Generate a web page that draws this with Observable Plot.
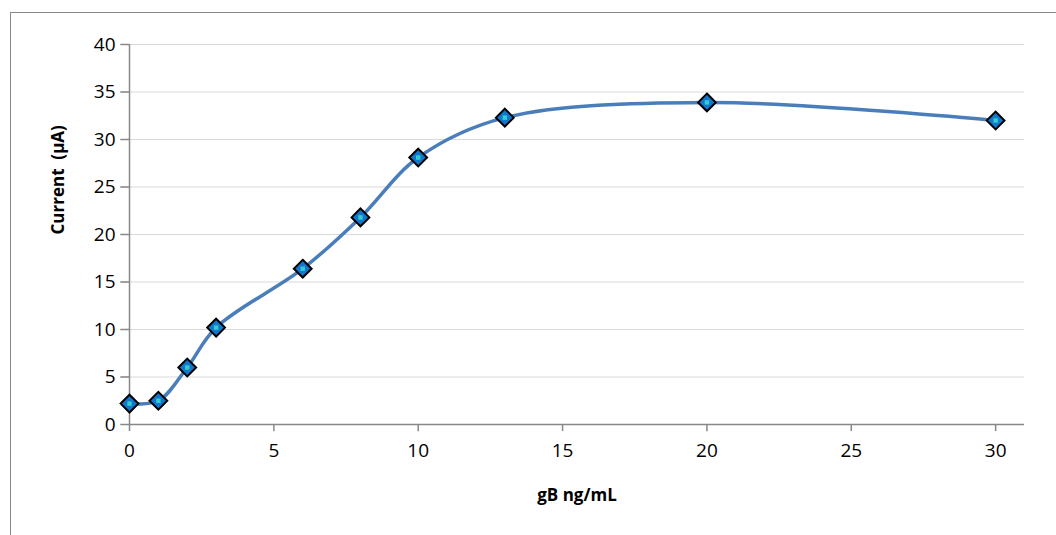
<!DOCTYPE html>
<html><head><meta charset="utf-8">
<script src="https://cdn.jsdelivr.net/npm/d3@7"></script>
<script src="https://cdn.jsdelivr.net/npm/@observablehq/plot@0.6"></script>
<style>
body{margin:0;background:#fff;font-family:"Open Sans",sans-serif;}
#frame{position:absolute;left:10px;top:12px;width:1060px;height:540px;border:1px solid #888;}
#chart{position:absolute;left:0;top:0;}
#chart svg text{font-size:19px !important;}
#chart svg g[font-weight="bold"] text{font-size:17px !important;}
</style></head><body>
<div id="frame"></div>
<div id="chart"></div>
<script>
// values
const concentration = [0, 1, 2, 3, 6, 8, 10, 13, 20, 30];
const current = [2.2, 2.5, 6.0, 10.2, 16.4, 21.8, 28.1, 32.3, 33.9, 32.0];
const xTicks = [0, 5, 10, 15, 20, 25, 30];
const yTicks = [0, 5, 10, 15, 20, 25, 30, 35, 40];

const points = concentration.map((x, i) => ({x, y: current[i]}));

const plot = Plot.plot({
  width: 1056,
  height: 535,
  marginLeft: 129,
  marginRight: 32,
  marginTop: 44,
  marginBottom: 111,
  style: {fontFamily: "Open Sans, sans-serif", color: "#000", background: "transparent", overflow: "visible"},
  x: {domain: [0, 31], axis: null},
  y: {domain: [0, 40], axis: null},
  marks: [
    Plot.ruleY(yTicks, {y: d => d, x1: -0.3, x2: 31, stroke: "#d9d9d9", strokeWidth: 1}),
    Plot.ruleX(xTicks, {x: d => d, y1: 0, y2: -0.75, stroke: "#888", strokeWidth: 1.5}),
    Plot.ruleY(yTicks, {y: d => d, x1: 0, x2: -0.3, stroke: "#888", strokeWidth: 1.5}),
    Plot.ruleY([0], {x1: 0, x2: 31, stroke: "#888", strokeWidth: 1.5}),
    Plot.ruleX([0], {y1: 0, y2: 40, stroke: "#888", strokeWidth: 1.5}),
    Plot.text(xTicks, {x: d => d, frameAnchor: "bottom", dy: 32, fontSize: 19, fill: "#000"}),
    Plot.text(yTicks, {y: d => d, frameAnchor: "left", dx: -14, textAnchor: "end", fontSize: 19, fill: "#000"}),
    Plot.line(points, {x: "x", y: "y", curve: "catmull-rom", stroke: "#4a7ebb", strokeWidth: 3.5}),
    Plot.dot(points, {x: "x", y: "y", symbol: "diamond2", r: 8, fill: "#1177cc", stroke: "#000", strokeWidth: 2}),
    Plot.dot(points, {x: "x", y: "y", symbol: "square", r: 2.5, fill: "#33cccc"}),
    Plot.text(["gB ng/mL"], {frameAnchor: "bottom", dy: 76, fontWeight: "bold", fontSize: 17}),
    Plot.text(["Current  (µA)"], {frameAnchor: "left", dx: -71, rotate: -90, fontWeight: "bold", fontSize: 17})
  ]
});
document.getElementById("chart").appendChild(plot);
</script>
</body></html>
